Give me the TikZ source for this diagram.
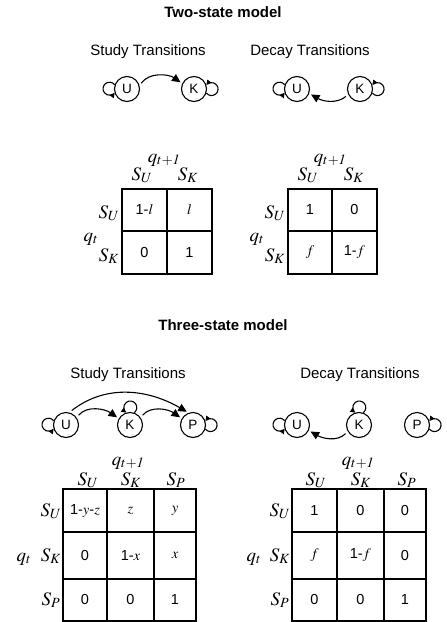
\documentclass[tikz,border=0pt]{standalone}
\usepackage{mathptmx}
\usepackage[no-math]{fontspec}
\setmainfont{Liberation Sans}
\usetikzlibrary{arrows.meta}
\tikzset{
  st/.style={circle, draw, line width=1.1pt, minimum size=25pt, inner sep=0pt, font=\fontsize{13.5}{14}\selectfont},
  trans/.style={line width=1.1pt, -{Triangle[length=8.5pt,width=8pt]}, shorten <=3pt, shorten >=2pt},
  selfloop/.style={line width=1.1pt, -{Triangle[length=5pt,width=5pt]}},
  title/.style={anchor=base, font=\fontsize{15}{18}\selectfont\bfseries},
  head/.style={anchor=base, font=\fontsize{15}{18}\selectfont},
  lab/.style={anchor=base, font=\fontsize{19}{22}\selectfont},
  cell/.style={font=\fontsize{14.5}{16}\selectfont},
  grid/.style={line width=1.2pt}
}
% small round self-loops on a state circle (radius 12.5pt)
\newcommand{\loopleft}[1]{\draw[selfloop] (#1.161.6) arc[start angle=37.5, end angle=322.5, radius=6.5pt];}
\newcommand{\loopright}[1]{\draw[selfloop] (#1.-18.4) arc[start angle=-142.5, end angle=142.5, radius=6.5pt];}
\newcommand{\looptop}[1]{\draw[selfloop] (#1.71.6) arc[start angle=-52.5, end angle=232.5, radius=6.5pt];}
\begin{document}
\begin{tikzpicture}[x=1pt,y=1pt]
\useasboundingbox (0,0) rectangle (447,-622);

% ---------- two-state model ----------
\node[title] (t1) at (223,-17) {Two-state model};
\node[head] (h1) at (148,-55) {Study Transitions};
\node[head] (h2) at (310,-55) {Decay Transitions};

\node[st] (u1) at (127,-89) {U};
\node[st] (k1) at (194,-89) {K};
\loopleft{u1}
\loopright{k1}
\draw[trans] (u1.15) to[out=55,in=145] (k1.155);

\node[st] (u2) at (297,-89) {U};
\node[st] (k2) at (360,-89) {K};
\loopleft{u2}
\loopright{k2}
\draw[trans] (k2.205) to[out=220,in=-30] (u2.-20);

% matrix: study
\draw[grid] (122,-189) rectangle (212,-274);
\draw[grid] (167,-189) -- (167,-274);
\draw[grid] (122,-231) -- (212,-231);
\node[lab] (q1) at (164,-162) {$q_{t+\mathit{1}}$};
\node[lab] (c1u) at (142,-180) {$S_U$};
\node[lab] (c1k) at (188,-180) {$S_K$};
\node[lab] (r1u) at (109,-218) {$S_U$};
\node[lab] (r1k) at (109,-261) {$S_K$};
\node[lab] (qt1) at (91,-241) {$q_t$};
\node[cell] (a11) at (144.5,-210) {1-$l$};
\node[cell] (a12) at (189.5,-210) {$l$};
\node[cell] (a21) at (144.5,-252.5) {0};
\node[cell] (a22) at (189.5,-252.5) {1};

% matrix: decay
\draw[grid] (288,-189) rectangle (377,-274);
\draw[grid] (332,-189) -- (332,-274);
\draw[grid] (288,-231) -- (377,-231);
\node[lab] (q2) at (330,-162) {$q_{t+\mathit{1}}$};
\node[lab] (c2u) at (308,-180) {$S_U$};
\node[lab] (c2k) at (354,-180) {$S_K$};
\node[lab] (r2u) at (275,-218) {$S_U$};
\node[lab] (r2k) at (275,-261) {$S_K$};
\node[lab] (qt2) at (257,-241) {$q_t$};
\node[cell] (b11) at (310,-210) {1};
\node[cell] (b12) at (354.5,-210) {0};
\node[cell] (b21) at (310,-252.5) {$f$};
\node[cell] (b22) at (354.5,-252.5) {1-$f$};

% ---------- three-state model ----------
\node[title] (t2) at (223,-330) {Three-state model};
\node[head] (h3) at (128,-378) {Study Transitions};
\node[head] (h4) at (360,-378) {Decay Transitions};

\node[st] (u3) at (66,-425) {U};
\node[st] (k3) at (130,-425) {K};
\node[st] (p3) at (193,-425) {P};
\loopleft{u3}
\looptop{k3}
\loopright{p3}
\draw[trans] (u3.35) to[out=50,in=145] (k3.150);
\draw[trans] (k3.35) to[out=50,in=145] (p3.150);
\draw[trans] (u3.75) to[out=38,in=150] (p3.110);

\node[st] (u4) at (297,-425) {U};
\node[st] (k4) at (359,-425) {K};
\node[st] (p4) at (417,-425) {P};
\loopleft{u4}
\looptop{k4}
\loopright{p4}
\draw[trans] (k4.210) to[out=225,in=-30] (u4.-25);

% matrix: study
\draw[grid] (63,-489) rectangle (196,-621);
\draw[grid] (107,-489) -- (107,-621);
\draw[grid] (154,-489) -- (154,-621);
\draw[grid] (63,-532) -- (196,-532);
\draw[grid] (63,-579) -- (196,-579);
\node[lab] (q3) at (128,-465) {$q_{t+\mathit{1}}$};
\node[lab] (c3u) at (88,-485) {$S_U$};
\node[lab] (c3k) at (131,-485) {$S_K$};
\node[lab] (c3p) at (176,-485) {$S_P$};
\node[lab] (r3u) at (51,-516) {$S_U$};
\node[lab] (r3k) at (51,-561) {$S_K$};
\node[lab] (r3p) at (51,-605) {$S_P$};
\node[lab] (qt3) at (24,-561) {$q_t$};
\node[cell] (d11) at (85,-510.5) {1-$y$-$z$};
\node[cell] (d12) at (130.5,-510.5) {$z$};
\node[cell] (d13) at (175,-510.5) {$y$};
\node[cell] (d21) at (85,-555.5) {0};
\node[cell] (d22) at (130.5,-555.5) {1-$x$};
\node[cell] (d23) at (175,-555.5) {$x$};
\node[cell] (d31) at (85,-600) {0};
\node[cell] (d32) at (130.5,-600) {0};
\node[cell] (d33) at (175,-600) {1};

% matrix: decay
\draw[grid] (292,-489) rectangle (426,-621);
\draw[grid] (337,-489) -- (337,-621);
\draw[grid] (384,-489) -- (384,-621);
\draw[grid] (292,-532) -- (426,-532);
\draw[grid] (292,-579) -- (426,-579);
\node[lab] (q4) at (358,-465) {$q_{t+\mathit{1}}$};
\node[lab] (c4u) at (316,-485) {$S_U$};
\node[lab] (c4k) at (361,-485) {$S_K$};
\node[lab] (c4p) at (407,-485) {$S_P$};
\node[lab] (r4u) at (280,-516) {$S_U$};
\node[lab] (r4k) at (280,-561) {$S_K$};
\node[lab] (r4p) at (280,-605) {$S_P$};
\node[lab] (qt4) at (254,-561) {$q_t$};
\node[cell] (e11) at (314.5,-510.5) {1};
\node[cell] (e12) at (360.5,-510.5) {0};
\node[cell] (e13) at (405,-510.5) {0};
\node[cell] (e21) at (314.5,-555.5) {$f$};
\node[cell] (e22) at (360.5,-555.5) {1-$f$};
\node[cell] (e23) at (405,-555.5) {0};
\node[cell] (e31) at (314.5,-600) {0};
\node[cell] (e32) at (360.5,-600) {0};
\node[cell] (e33) at (405,-600) {1};
\end{tikzpicture}
\end{document}
